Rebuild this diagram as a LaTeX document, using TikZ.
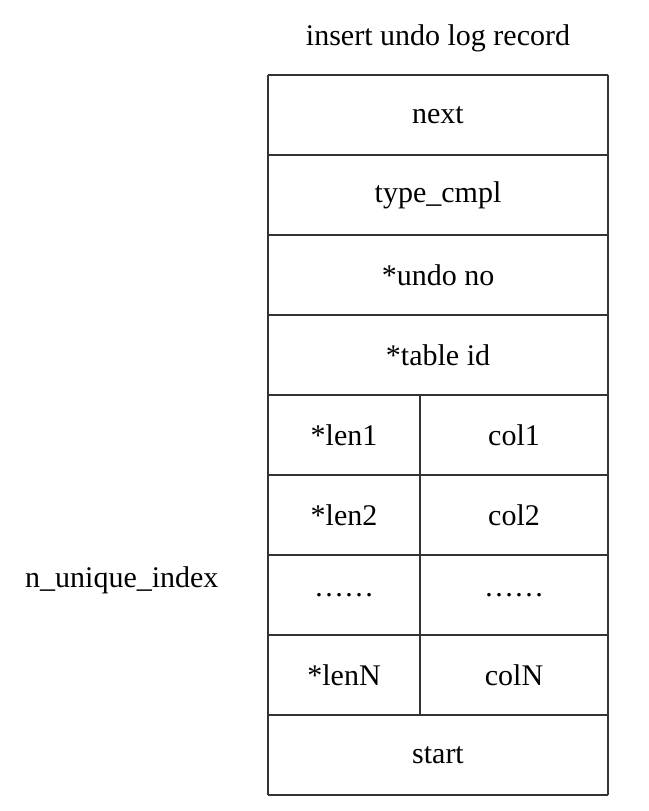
\documentclass[tikz,border=0pt]{standalone}
\usepackage{fontspec}
\setmainfont{Liberation Serif}
\begin{document}
\begin{tikzpicture}[x=1pt,y=-1pt,every node/.style={font=\fontsize{30}{36}\selectfont},
  cellline/.style={line width=1.2pt,black!80}]

    \def\xl{268}%Borde izquierdo
    \def\xr{608}%Borde derecho
    \def\xm{420}%Division columnas
    \def\rowh{80}%Alto fila
    \def\puntos{……}%Puntos

    \useasboundingbox (0,0) rectangle (648,811);

    %Titulo
    \node (title) at (438,38) {insert undo log record};
    \node[anchor=east] (nidx) at (222,580) {n\_unique\_index};

    %Filas
    \foreach \i in {0,...,9}
        \draw[cellline] (\xl,{75+\i*\rowh})--(\xr,{75+\i*\rowh});
    \draw[cellline] (\xl,75)--(\xl,795) (\xr,75)--(\xr,795);
    \draw[cellline] (\xm,{75+4*\rowh})--(\xm,{75+8*\rowh});

    %Celdas completas
    \foreach \t [count=\i from 0] in {next,type\_cmpl,*undo no,*table id}
        \node (row\i) at ({(\xl+\xr)/2},{115+\i*\rowh}) {\t};
    \node (rowstart) at ({(\xl+\xr)/2},{115+8*\rowh}) {start};

    %Celdas partidas
    \foreach \a/\b [count=\i from 4] in {*len1/col1,*len2/col2,\puntos/\puntos,*lenN/colN}{
        \node (len\i) at ({(\xl+\xm)/2},{115+\i*\rowh}) {\a};
        \node (col\i) at ({(\xm+\xr)/2},{115+\i*\rowh}) {\b};
    }
\end{tikzpicture}
\end{document}
